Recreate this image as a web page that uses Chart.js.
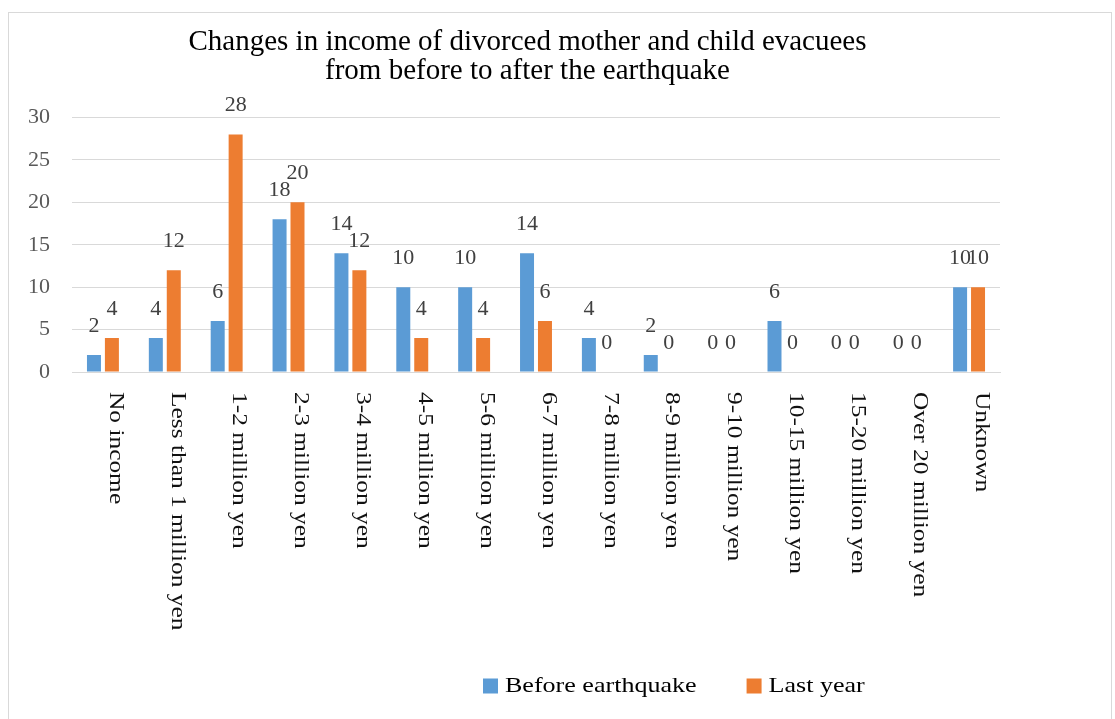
<!DOCTYPE html>
<html>
<head>
<meta charset="utf-8">
<script src="https://cdn.jsdelivr.net/npm/chart.js@4/dist/chart.umd.min.js"></script>
<style>
  html, body { margin: 0; padding: 0; background: #ffffff; }
  #wrap { width: 1115px; height: 719px; }
</style>
</head>
<body>
<div id="wrap"><canvas id="c" width="1115" height="719"></canvas></div>
<script>
const categories = [
  "No income",
  "Less than 1 million yen",
  "1-2 million yen",
  "2-3 million yen",
  "3-4 million yen",
  "4-5 million yen",
  "5-6 million yen",
  "6-7 million yen",
  "7-8 million yen",
  "8-9 million yen",
  "9-10 million yen",
  "10-15 million yen",
  "15-20 million yen",
  "Over 20 million yen",
  "Unknown"
];
const beforeEarthquake = [2, 4, 6, 18, 14, 10, 10, 14, 4, 2, 0, 6, 0, 0, 10];
const lastYear = [4, 12, 28, 20, 12, 4, 4, 6, 0, 0, 0, 0, 0, 0, 10];
const seriesNames = ["Before earthquake", "Last year"];
const titleLines = ["Changes in income of divorced mother and child evacuees", "from before to after the earthquake"];
const yTicks = [0, 5, 10, 15, 20, 25, 30];

const SERIF = "'Liberation Serif', 'DejaVu Serif', serif";
const BLUE = "#5B9BD5";
const ORANGE = "#ED7D31";

const framePlugin = {
  id: 'frame',
  afterLayout(chart) {
    // title block sits slightly right of the plot centre in the reference
    if (chart.titleBlock) {
      chart.titleBlock.left += 15;
      chart.titleBlock.right += 15;
    }
  },
  beforeDraw(chart) {
    const ctx = chart.ctx;
    ctx.save();
    ctx.fillStyle = '#ffffff';
    ctx.fillRect(0, 0, chart.width, chart.height);
    ctx.strokeStyle = '#d9d9d9';
    ctx.lineWidth = 1;
    ctx.strokeRect(8.5, 12.5, 1103, 730);
    ctx.restore();
  }
};

const valueLabelPlugin = {
  id: 'valueLabels',
  afterDatasetsDraw(chart) {
    const ctx = chart.ctx;
    ctx.save();
    ctx.font = "22px " + SERIF;
    ctx.fillStyle = '#404040';
    ctx.textAlign = 'center';
    ctx.textBaseline = 'alphabetic';
    chart.data.datasets.forEach((ds, di) => {
      const meta = chart.getDatasetMeta(di);
      meta.data.forEach((el, i) => {
        ctx.fillText(String(ds.data[i]), el.x, el.y - 23);
      });
    });
    ctx.restore();
  }
};

const xLabelPlugin = {
  id: 'xLabels',
  afterDraw(chart) {
    const ctx = chart.ctx;
    const xs = chart.scales.x;
    ctx.save();
    ctx.font = "20px " + SERIF;
    ctx.fillStyle = '#111111';
    ctx.textAlign = 'left';
    ctx.textBaseline = 'middle';
    chart.data.labels.forEach((lab, i) => {
      const x = xs.getPixelForTick(i) + 12;
      const y = xs.top + 20;
      ctx.save();
      ctx.translate(x, y);
      ctx.rotate(Math.PI / 2);
      ctx.scale(1.27, 1);
      ctx.fillText(lab, 0, 0);
      ctx.restore();
    });
    ctx.restore();
  }
};

const legendPlugin = {
  id: 'customLegend',
  afterDraw(chart) {
    const ctx = chart.ctx;
    ctx.save();
    ctx.font = "21px " + SERIF;
    ctx.textBaseline = 'middle';
    ctx.textAlign = 'left';
    const stretch = 1.24;
    let x = 483;
    const cy = 686;
    chart.data.datasets.forEach((ds) => {
      ctx.fillStyle = ds.backgroundColor;
      ctx.fillRect(x, cy - 7.5, 15, 15);
      x += 15 + 7;
      ctx.save();
      ctx.translate(x, cy);
      ctx.scale(stretch, 1);
      ctx.fillStyle = '#000000';
      ctx.fillText(ds.label, 0, 0);
      ctx.restore();
      x += ctx.measureText(ds.label).width * stretch + 50;
    });
    ctx.restore();
  }
};

new Chart(document.getElementById('c'), {
  type: 'bar',
  data: {
    labels: categories,
    datasets: [
      { label: seriesNames[0], data: beforeEarthquake, backgroundColor: BLUE, barPercentage: 0.78, categoryPercentage: 0.58 },
      { label: seriesNames[1], data: lastYear, backgroundColor: ORANGE, barPercentage: 0.78, categoryPercentage: 0.58 }
    ]
  },
  options: {
    responsive: false,
    animation: false,
    devicePixelRatio: 1,
    layout: { padding: { top: 17.5, left: 25, right: 115, bottom: 0 } },
    plugins: {
      legend: { display: false },
      tooltip: { enabled: false },
      title: {
        display: true,
        text: titleLines,
        color: '#000000',
        font: { family: SERIF, size: 29, weight: 'normal', lineHeight: 1.0 },
        padding: { top: 10, bottom: 32 }
      }
    },
    scales: {
      x: {
        grid: { display: false, drawTicks: false },
        border: { display: true, color: '#d9d9d9' },
        ticks: { display: false, autoSkip: false },
        afterFit(scale) { scale.height = 347; }
      },
      y: {
        min: 0,
        max: 30,
        afterBuildTicks(scale) { scale.ticks = yTicks.map(v => ({ value: v })); },
        afterFit(scale) { scale.width = 47; },
        grid: { color: '#d9d9d9', drawTicks: false, lineWidth: 1 },
        border: { display: false },
        ticks: {
          padding: 22,
          color: '#595959',
          font: { family: SERIF, size: 22 }
        }
      }
    }
  },
  plugins: [framePlugin, valueLabelPlugin, xLabelPlugin, legendPlugin]
});
</script>
</body>
</html>
